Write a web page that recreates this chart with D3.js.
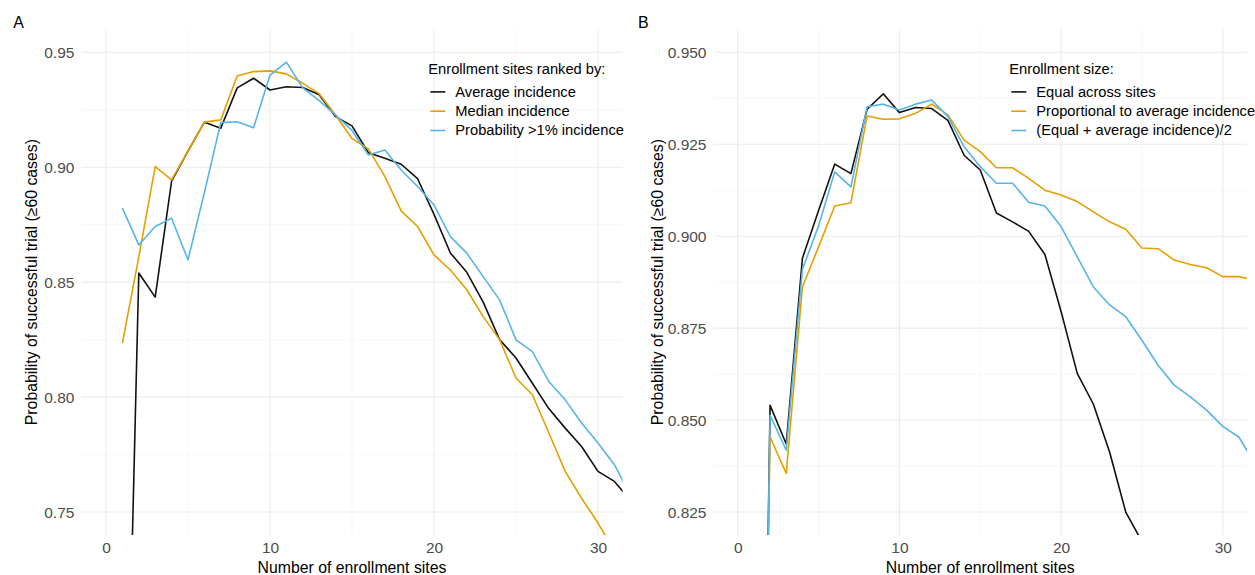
<!DOCTYPE html>
<html>
<head>
<meta charset="utf-8">
<script src="https://cdn.jsdelivr.net/npm/d3@7"></script>
<style>
  html, body { margin: 0; padding: 0; background: #fff; }
  svg { display: block; font-family: "Liberation Sans", Arial, sans-serif; }
</style>
</head>
<body>
<svg id="chart" width="1255" height="575"></svg>
<script>
// ---------- data ----------
const sites = d3.range(1, 33); // 1..32

// Panel A: ranking of enrollment sites
const averageIncidence = [0.560, 0.854, 0.8435, 0.894, 0.907, 0.9196, 0.917, 0.9345, 0.9387, 0.9336,
  0.935, 0.9347, 0.9315, 0.922, 0.918, 0.9063, 0.9039, 0.9013, 0.895, 0.8795,
  0.8627, 0.8543, 0.8413, 0.825, 0.817, 0.806, 0.795, 0.7865, 0.7785, 0.7677,
  0.7633, 0.755];
const medianIncidence = [0.8235, 0.861, 0.9003, 0.8945, 0.907, 0.9196, 0.9206, 0.9397, 0.9416, 0.9419,
  0.9406, 0.9365, 0.932, 0.9227, 0.9125, 0.908, 0.896, 0.881, 0.8742, 0.8619,
  0.8553, 0.8467, 0.835, 0.825, 0.8083, 0.801, 0.7845, 0.7677, 0.756, 0.7452,
  0.733, 0.721];
const probOver1 = [0.8822, 0.8662, 0.8742, 0.8778, 0.8597, 0.889, 0.9194, 0.9198, 0.9172, 0.9401,
  0.9457, 0.9345, 0.929, 0.9227, 0.916, 0.9053, 0.9075, 0.8988, 0.8916, 0.8836,
  0.8698, 0.8626, 0.8524, 0.8423, 0.8249, 0.8198, 0.8068, 0.7988, 0.7887, 0.780,
  0.7706, 0.757];

// Panel B: enrollment size
const equalAcross = averageIncidence;
const proportional = [0.560, 0.8454, 0.8355, 0.8862, 0.8971, 0.9082, 0.9091, 0.9327, 0.9318, 0.9319,
  0.9334, 0.9359, 0.933, 0.9261, 0.923, 0.9186, 0.9186, 0.9157, 0.9125, 0.9112,
  0.9094, 0.9066, 0.9039, 0.9019, 0.8968, 0.8966, 0.8935, 0.8923, 0.8914, 0.889,
  0.889, 0.888];
const equalPlusAvg = [0.560, 0.8513, 0.8418, 0.891, 0.9028, 0.9175, 0.9134, 0.9352, 0.9359, 0.9343,
  0.9359, 0.937, 0.9325, 0.9243, 0.9189, 0.9144, 0.9144, 0.9092, 0.9082, 0.9026,
  0.8944, 0.8862, 0.8813, 0.8781, 0.8717, 0.8649, 0.8595, 0.8563, 0.8527, 0.8483,
  0.8454, 0.838];

const xTicks = [0, 10, 20, 30];
const yTicksA = [0.75, 0.80, 0.85, 0.90, 0.95];
const yTicksB = [0.825, 0.850, 0.875, 0.900, 0.925, 0.950];

const namesA = ["Average incidence", "Median incidence", "Probability >1% incidence"];
const namesB = ["Equal across sites", "Proportional to average incidence", "(Equal + average incidence)/2"];
const colors = ["#111111", "#E69F00", "#56B4E9"];

// ---------- drawing ----------
const svg = d3.select("#chart");
const xTitle = "Number of enrollment sites";
const yTitle = "Probability of successful trial (\u226560 cases)";

function panel(opts) {
  const { left, right, top, bottom, yDomain, yTicks, yFmt, series, names,
          label, labelX, legendTitle, legendX, titleX, id } = opts;
  const x = d3.scaleLinear().domain([-1.5, 31.5]).range([left, right]);
  const ypad = (yDomain[1] - yDomain[0]) * 0.05;
  const y = d3.scaleLinear().domain([yDomain[0] - ypad, yDomain[1] + ypad]).range([bottom, top]);
  const g = svg.append("g");

  // minor grid
  const xMinor = [5, 15, 25];
  const step = yTicks[1] - yTicks[0];
  const yMinor = yTicks.slice(0, -1).map(v => v + step / 2);
  g.selectAll(".xminor").data(xMinor).join("line")
    .attr("x1", d => x(d)).attr("x2", d => x(d)).attr("y1", top).attr("y2", bottom)
    .attr("stroke", "#f3f3f3").attr("stroke-width", 0.7);
  g.selectAll(".yminor").data(yMinor).join("line")
    .attr("x1", left).attr("x2", right).attr("y1", d => y(d)).attr("y2", d => y(d))
    .attr("stroke", "#f3f3f3").attr("stroke-width", 0.7);
  // major grid
  g.selectAll(".xmajor").data(xTicks).join("line")
    .attr("x1", d => x(d)).attr("x2", d => x(d)).attr("y1", top).attr("y2", bottom)
    .attr("stroke", "#ebebeb").attr("stroke-width", 1.1);
  g.selectAll(".ymajor").data(yTicks).join("line")
    .attr("x1", left).attr("x2", right).attr("y1", d => y(d)).attr("y2", d => y(d))
    .attr("stroke", "#ebebeb").attr("stroke-width", 1.1);

  // axes (labels only)
  const xAxis = g.append("g").attr("transform", `translate(0,${bottom})`)
    .call(d3.axisBottom(x).tickValues(xTicks).tickSize(0).tickPadding(7).tickFormat(d3.format("d")));
  const yAxis = g.append("g").attr("transform", `translate(${left},0)`)
    .call(d3.axisLeft(y).tickValues(yTicks).tickSize(0).tickPadding(7).tickFormat(yFmt));
  [xAxis, yAxis].forEach(a => {
    a.select(".domain").remove();
    a.selectAll("text").attr("fill", "#4d4d4d").style("font-size", "15.5px")
      .style("font-family", "'Liberation Sans', Arial, sans-serif");
  });
  xAxis.selectAll("text").attr("dy", "0.71em");
  yAxis.selectAll("text").attr("dy", "0.36em");

  // lines
  svg.append("defs").append("clipPath").attr("id", id)
    .append("rect").attr("x", left).attr("y", top).attr("width", right - left).attr("height", bottom - top);
  const line = d3.line().x((d, i) => x(sites[i])).y(d => y(d));
  g.append("g").attr("clip-path", `url(#${id})`)
    .selectAll("path").data(series).join("path")
    .attr("d", d => line(d))
    .attr("fill", "none")
    .attr("stroke", (d, i) => colors[i])
    .attr("stroke-width", 1.6)
    .attr("stroke-linejoin", "round");

  // titles
  g.append("text").attr("x", (left + right) / 2).attr("y", 572.5)
    .attr("text-anchor", "middle").style("font-size", "15.8px").attr("fill", "#000").text(xTitle);
  g.append("text").attr("transform", `translate(${titleX},${(top + bottom) / 2}) rotate(-90)`)
    .attr("text-anchor", "middle").attr("dominant-baseline", "central")
    .style("font-size", "15.8px").attr("fill", "#000").text(yTitle);
  g.append("text").attr("x", labelX).attr("y", 28.3).style("font-size", "16px").attr("fill", "#000").text(label);

  // legend
  const lg = g.append("g").attr("transform", `translate(${legendX},0)`);
  lg.append("text").attr("x", 0).attr("y", 74).style("font-size", "14.7px").attr("fill", "#000").text(legendTitle);
  const rows = lg.selectAll(".row").data(names).join("g")
    .attr("transform", (d, i) => `translate(0,${96.7 + i * 19.3})`);
  rows.append("line").attr("x1", 2).attr("x2", 17).attr("y1", -4.8).attr("y2", -4.8)
    .attr("stroke", (d, i) => colors[i]).attr("stroke-width", 1.6);
  rows.append("text").attr("x", 27).attr("y", 0).style("font-size", "14.7px").attr("fill", "#000").text(d => d);
}

panel({
  id: "clipA", left: 81.4, right: 622.6, top: 29.3, bottom: 535,
  yDomain: [0.75, 0.95], yTicks: yTicksA, yFmt: d3.format(".2f"),
  series: [averageIncidence, medianIncidence, probOver1], names: namesA,
  label: "A", labelX: 13.3, legendTitle: "Enrollment sites ranked by:", legendX: 428.3, titleX: 31.5
});
panel({
  id: "clipB", left: 713.5, right: 1247, top: 29.3, bottom: 535,
  yDomain: [0.825, 0.95], yTicks: yTicksB, yFmt: d3.format(".3f"),
  series: [equalAcross, proportional, equalPlusAvg], names: namesB,
  label: "B", labelX: 638, legendTitle: "Enrollment size:", legendX: 1009.3, titleX: 657
});
</script>
</body>
</html>
